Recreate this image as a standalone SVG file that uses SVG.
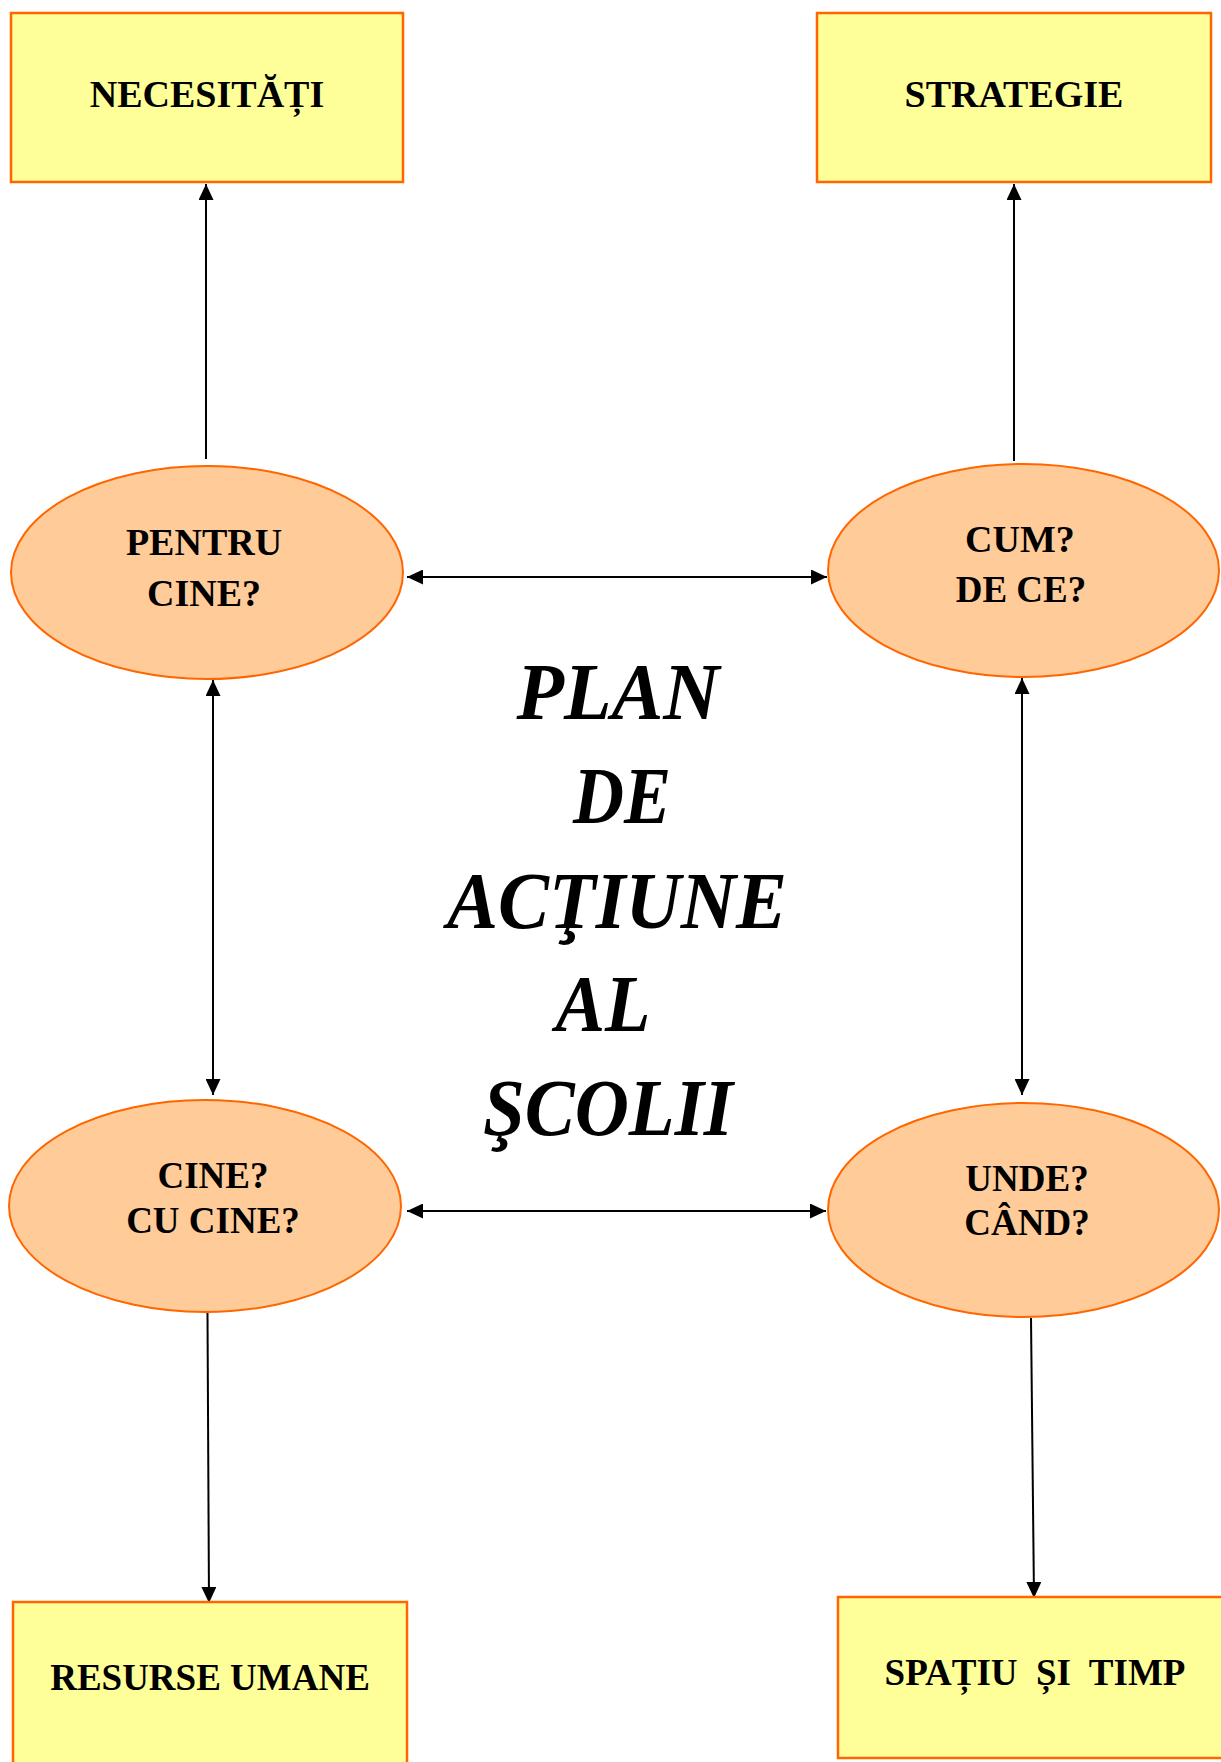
<svg xmlns="http://www.w3.org/2000/svg" width="1221" height="1762" viewBox="0 0 1221 1762">
<style>
.box{fill:#FFFF99;stroke:#FF6600;stroke-width:2.5}
.ell{fill:#FFCC99;stroke:#FF6600;stroke-width:2}
.lbl{font-family:"Liberation Serif","Times New Roman",serif;font-weight:bold;font-size:38px;fill:#000;text-anchor:middle;white-space:pre}
.title{font-family:"Liberation Serif","Times New Roman",serif;font-weight:bold;font-style:italic;font-size:81px;fill:#000;text-anchor:middle}
.con{stroke:#000;stroke-width:2;fill:none}
</style>
<defs>
<marker id="ah" viewBox="0 0 16 15" markerWidth="16" markerHeight="15" refX="16" refY="7.5" orient="auto-start-reverse" markerUnits="userSpaceOnUse">
<path d="M0,0 L16,7.5 L0,15 z" fill="#000"/>
</marker>
</defs>
<rect width="1221" height="1762" fill="#fff"/>
<g id="connectors">
<line class="con" x1="206" y1="459" x2="206" y2="184" marker-end="url(#ah)"/>
<line class="con" x1="1014" y1="461" x2="1014" y2="184" marker-end="url(#ah)"/>
<line class="con" x1="407" y1="577" x2="827" y2="577" marker-start="url(#ah)" marker-end="url(#ah)"/>
<line class="con" x1="213" y1="680" x2="213" y2="1095" marker-start="url(#ah)" marker-end="url(#ah)"/>
<line class="con" x1="1022" y1="678" x2="1022" y2="1095" marker-start="url(#ah)" marker-end="url(#ah)"/>
<line class="con" x1="407" y1="1211" x2="826" y2="1211" marker-start="url(#ah)" marker-end="url(#ah)"/>
<line class="con" x1="207.5" y1="1313" x2="209" y2="1603" marker-end="url(#ah)"/>
<line class="con" x1="1031" y1="1318" x2="1034" y2="1598" marker-end="url(#ah)"/>
</g>
<g id="necesitati">
<rect class="box" x="11" y="13" width="392" height="169"/>
<text class="lbl" x="207" y="107">NECESITĂȚI</text>
</g>
<g id="strategie">
<rect class="box" x="817" y="13" width="394" height="169"/>
<text class="lbl" x="1014" y="107">STRATEGIE</text>
</g>
<g id="pentru-cine">
<ellipse class="ell" cx="207" cy="572.5" rx="196" ry="106.5"/>
<text class="lbl" x="204" y="555">PENTRU</text>
<text class="lbl" x="204" y="606">CINE?</text>
</g>
<g id="cum-de-ce">
<ellipse class="ell" cx="1023.5" cy="570.5" rx="195.5" ry="106.5"/>
<text class="lbl" x="1020" y="552">CUM?</text>
<text class="lbl" x="1021" y="602" style="font-size:37px">DE CE?</text>
</g>
<g id="cine-cu-cine">
<ellipse class="ell" cx="205" cy="1206" rx="196" ry="106"/>
<text class="lbl" x="213" y="1188" style="font-size:37px">CINE?</text>
<text class="lbl" x="213" y="1233" style="font-size:37px">CU CINE?</text>
</g>
<g id="unde-cand">
<ellipse class="ell" cx="1023.5" cy="1210" rx="195.5" ry="107"/>
<text class="lbl" x="1027" y="1191" style="font-size:37px">UNDE?</text>
<text class="lbl" x="1027" y="1235" style="font-size:37px">CÂND?</text>
</g>
<g id="resurse-umane">
<rect class="box" x="13" y="1602" width="394" height="170"/>
<text class="lbl" x="210" y="1690" style="font-size:37px">RESURSE UMANE</text>
</g>
<g id="spatiu-timp">
<rect class="box" x="838" y="1597" width="400" height="161"/>
<text class="lbl" x="1035" y="1685" style="font-size:37px">SPAȚIU  ȘI  TIMP</text>
</g>
<g id="title">
<text class="title" x="618" y="719" textLength="203" lengthAdjust="spacingAndGlyphs">PLAN</text>
<text class="title" x="622" y="823" textLength="98" lengthAdjust="spacingAndGlyphs">DE</text>
<text class="title" x="617" y="928" textLength="340" lengthAdjust="spacingAndGlyphs">ACŢIUNE</text>
<text class="title" x="603" y="1031" textLength="95" lengthAdjust="spacingAndGlyphs">AL</text>
<text class="title" x="608" y="1135" textLength="250" lengthAdjust="spacingAndGlyphs">ŞCOLII</text>
</g>
</svg>
